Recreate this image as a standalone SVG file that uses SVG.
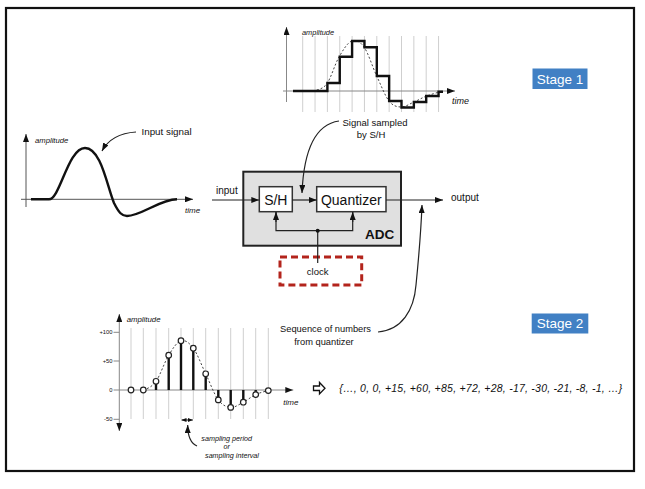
<svg xmlns="http://www.w3.org/2000/svg" width="645" height="489" viewBox="0 0 645 489">
<style>
text{font-family:"Liberation Sans",Arial,sans-serif;fill:#111}
.it{font-style:italic}
.ax{stroke:#888;stroke-width:1;fill:none}
.axd{stroke:#555;stroke-width:1;fill:none}
.grid{stroke:#cfcfcf;stroke-width:1}
.sig{stroke:#111;stroke-width:2.4;fill:none;stroke-linejoin:miter}
.dash{stroke:#444;stroke-width:1;stroke-dasharray:2 2;fill:none}
.con{stroke:#222;stroke-width:1.2;fill:none}
.stem{stroke:#111;stroke-width:2.4}
.pt{fill:#fff;stroke:#222;stroke-width:1.2}
.box{fill:#fff;stroke:#333;stroke-width:1.5}
.stage{fill:#4180c4}
.stxt{fill:#fff;font-size:13.5px;text-anchor:middle}
</style>
<defs>
<marker id="ah" viewBox="0 0 8 6" refX="8" refY="3" markerWidth="8" markerHeight="6" markerUnits="userSpaceOnUse" orient="auto">
<path d="M0,0 L8,3 L0,6 z" fill="#111"/>
</marker>
<marker id="sa" viewBox="0 0 5 4" refX="5" refY="2" markerWidth="5" markerHeight="4" markerUnits="userSpaceOnUse" orient="auto-start-reverse">
<path d="M0,0 L5,2 L0,4 z" fill="#111"/>
</marker>
</defs>
<rect x="6" y="8" width="628" height="463" fill="#fff" stroke="#111" stroke-width="2.2"/>

<g id="input-signal-graph">
<line class="axd" x1="26" y1="207" x2="26" y2="134" marker-end="url(#ah)"/>
<line class="axd" x1="21" y1="199.3" x2="193" y2="199.3" marker-end="url(#ah)"/>
<path class="sig" d="M31,199.3 L49,199.3 C60,199.3 68,148 85,148 C101,148 107,186 114,203 C119,213 122,216 127,216 C141,216 160,199.3 177,199.3"/>
<text class="it" x="35" y="143" font-size="7.7">amplitude</text>
<text class="it" x="185" y="213" font-size="8">time</text>
<text x="141.5" y="135" font-size="9.8">Input signal</text>
</g>

<g id="sampled-graph">
<g class="grid">
<line x1="302.7" y1="36" x2="302.7" y2="112"/><line x1="315.05" y1="36" x2="315.05" y2="112"/><line x1="327.4" y1="36" x2="327.4" y2="112"/><line x1="339.75" y1="36" x2="339.75" y2="112"/><line x1="352.1" y1="36" x2="352.1" y2="112"/><line x1="364.45" y1="36" x2="364.45" y2="112"/><line x1="376.8" y1="36" x2="376.8" y2="112"/><line x1="389.15" y1="36" x2="389.15" y2="112"/><line x1="401.5" y1="36" x2="401.5" y2="112"/><line x1="413.85" y1="36" x2="413.85" y2="112"/><line x1="426.2" y1="36" x2="426.2" y2="112"/><line x1="438.55" y1="36" x2="438.55" y2="112"/>
</g>
<line class="ax" x1="286.5" y1="102" x2="286.5" y2="27" marker-end="url(#ah)"/>
<line class="ax" x1="283" y1="91" x2="455" y2="91" marker-end="url(#ah)"/>
<path class="dash" d="M313,91 C316.6,89.8 322.4,89.7 326.7,84 C331,78.3 334.8,64.2 339,57 C343.2,49.8 347.5,42.7 351.7,41 C355.9,39.3 359.8,41.2 364,47 C368.2,52.8 372.5,67 376.7,76 C380.9,85 385,95.8 389,101 C393.1,106.2 396.8,106.8 401,107 C405.2,107.2 409.7,103.8 414,102 C418.3,100.2 421.9,97.8 426.7,96 C431.5,94.2 439.1,92 443,91"/>
<path class="sig" d="M293,91 L327.4,91 L327.4,83 L339.75,83 L339.75,56.7 L352.1,56.7 L352.1,41 L364.45,41 L364.45,47.3 L376.8,47.3 L376.8,76 L389.15,76 L389.15,101 L401.5,101 L401.5,107.5 L413.85,107.5 L413.85,102 L426.2,102 L426.2,96 L438.55,96 L438.55,91.7 L443,91.7"/>
<text class="it" x="302" y="35" font-size="7.4">amplitude</text>
<text class="it" x="452" y="104" font-size="9">time</text>
<text x="375" y="126" font-size="9.5" text-anchor="middle">Signal sampled</text>
<text x="371" y="138" font-size="9.5" text-anchor="middle">by S/H</text>
</g>

<g id="adc">
<rect x="243.3" y="171.7" width="157.7" height="74" fill="#e0e0e0" stroke="#222" stroke-width="2"/>
<text x="394.3" y="239.3" font-size="13.5" font-weight="bold" text-anchor="end">ADC</text>
</g>
<g id="sh">
<rect class="box" x="259.3" y="186.7" width="33" height="25"/>
<text x="275.8" y="204.5" font-size="14" text-anchor="middle">S/H</text>
</g>
<g id="quantizer">
<rect class="box" x="316.7" y="186.7" width="69.3" height="25"/>
<text x="351.3" y="204.5" font-size="14" text-anchor="middle">Quantizer</text>
</g>
<g id="clock">
<rect x="280" y="257" width="81.7" height="28" fill="none" stroke="#b3241c" stroke-width="3" stroke-dasharray="7 4"/>
<text x="317.7" y="275" font-size="9.5" text-anchor="middle">clock</text>
</g>
<g id="io-labels">
<text x="216" y="194" font-size="10">input</text>
<text x="451" y="201" font-size="10">output</text>
</g>

<g id="connectors">
<line class="con" x1="212" y1="200" x2="259.3" y2="200" marker-end="url(#ah)"/>
<line class="con" x1="292.3" y1="200" x2="316.7" y2="200" marker-end="url(#ah)"/>
<line class="con" x1="386" y1="200" x2="443" y2="200" stroke="#555" marker-end="url(#ah)"/>
<line class="con" x1="317.7" y1="263" x2="317.7" y2="230.7"/>
<polyline class="con" points="276,212 276,230.7 352.7,230.7 352.7,212"/>
<line class="con" x1="276" y1="222" x2="276" y2="212" marker-end="url(#ah)"/>
<line class="con" x1="352.7" y1="222" x2="352.7" y2="212" marker-end="url(#ah)"/>
<circle cx="317.7" cy="230.7" r="2" fill="#111"/>
<path class="con" d="M339,121 C318,124 304,145 302,193" marker-end="url(#ah)"/>
<path class="con" d="M136,132 C120,133 108,140 102,151" marker-end="url(#ah)"/>
<path class="con" d="M378,332 C402,330 414,310 416,285 C419,255 421,230 422,205" marker-end="url(#ah)"/>
<path class="con" d="M197,446 C190,443 187.7,435 187.7,425" marker-end="url(#ah)"/>
</g>

<g id="stage1">
<rect class="stage" x="532.5" y="68.5" width="55" height="20.5"/>
<text class="stxt" x="560" y="83.7">Stage 1</text>
</g>
<g id="stage2">
<rect class="stage" x="531.7" y="313.5" width="56.6" height="20"/>
<text class="stxt" x="560" y="328.3">Stage 2</text>
</g>

<g id="seq-label">
<text x="325.5" y="331.5" font-size="9.3" text-anchor="middle">Sequence of numbers</text>
<text x="324" y="344.5" font-size="9.3" text-anchor="middle">from quantizer</text>
</g>

<g id="sampled-sequence-graph">
<g class="grid">
<line x1="131" y1="328" x2="131" y2="419"/><line x1="143.3" y1="328" x2="143.3" y2="419"/><line x1="156" y1="328" x2="156" y2="419"/><line x1="168.7" y1="328" x2="168.7" y2="419"/><line x1="181" y1="328" x2="181" y2="419"/><line x1="193.3" y1="328" x2="193.3" y2="419"/><line x1="205.7" y1="328" x2="205.7" y2="419"/><line x1="218.3" y1="328" x2="218.3" y2="419"/><line x1="230.7" y1="328" x2="230.7" y2="419"/><line x1="243.3" y1="328" x2="243.3" y2="419"/><line x1="255.7" y1="328" x2="255.7" y2="419"/><line x1="268.3" y1="328" x2="268.3" y2="419"/>
</g>
<line class="ax" x1="119.3" y1="372" x2="119.3" y2="314" marker-end="url(#ah)"/>
<line class="ax" x1="119.3" y1="372" x2="119.3" y2="431" marker-end="url(#ah)"/>
<line class="ax" x1="119.3" y1="390" x2="293.3" y2="390" marker-end="url(#ah)"/>
<g class="ax">
<line x1="113.5" y1="332.3" x2="119.3" y2="332.3"/><line x1="113.5" y1="361" x2="119.3" y2="361"/><line x1="113.5" y1="390" x2="119.3" y2="390"/><line x1="113.5" y1="419.3" x2="119.3" y2="419.3"/>
</g>
<g font-size="5.8" text-anchor="end">
<text x="112.5" y="334.3">+100</text>
<text x="112.5" y="363">+50</text>
<text x="112.5" y="392">0</text>
<text x="112.5" y="421.3">-50</text>
</g>
<path class="dash" d="M143.3,390 C147.5,388.6 151.8,387.1 156,381.3 C160.2,375.5 164.5,362 168.7,355.2 C172.9,348.4 176.9,341.9 181,340.7 C185.1,339.5 189.2,342.7 193.3,348.2 C197.4,353.7 201.5,365.2 205.7,373.8 C209.9,382.4 214.1,394.3 218.3,399.9 C222.5,405.5 226.5,407 230.7,407.4 C234.9,407.8 239.1,404.3 243.3,402.2 C247.5,400.1 251.5,396.5 255.7,394.6 C259.9,392.7 264.3,391.5 268.3,390.6"/>
<g class="stem">
<line x1="156" y1="390" x2="156" y2="381.3"/><line x1="168.7" y1="390" x2="168.7" y2="355.2"/><line x1="181" y1="390" x2="181" y2="340.7"/><line x1="193.3" y1="390" x2="193.3" y2="348.2"/><line x1="205.7" y1="390" x2="205.7" y2="373.8"/><line x1="218.3" y1="390" x2="218.3" y2="399.9"/><line x1="230.7" y1="390" x2="230.7" y2="407.4"/><line x1="243.3" y1="390" x2="243.3" y2="402.2"/><line x1="255.7" y1="390" x2="255.7" y2="394.6"/>
</g>
<g class="pt">
<circle cx="131" cy="390" r="2.8"/><circle cx="143.3" cy="390" r="2.8"/><circle cx="156" cy="381.3" r="2.8"/><circle cx="168.7" cy="355.2" r="2.8"/><circle cx="181" cy="340.7" r="2.8"/><circle cx="193.3" cy="348.2" r="2.8"/><circle cx="205.7" cy="373.8" r="2.8"/><circle cx="218.3" cy="399.9" r="2.8"/><circle cx="230.7" cy="407.4" r="2.8"/><circle cx="243.3" cy="402.2" r="2.8"/><circle cx="255.7" cy="394.6" r="2.8"/><circle cx="268.3" cy="390.6" r="2.8"/>
</g>
<line x1="181.5" y1="420" x2="192.8" y2="420" stroke="#111" stroke-width="1" marker-start="url(#sa)" marker-end="url(#sa)"/>
<text class="it" x="126.7" y="321.5" font-size="7.8">amplitude</text>
<text class="it" x="283.3" y="404.5" font-size="8">time</text>
<g class="it" font-size="7.2" text-anchor="middle">
<text x="226.7" y="440.5">sampling period</text>
<text x="226.7" y="449.3">or</text>
<text x="232" y="458.3">sampling interval</text>
</g>
</g>

<g id="sequence">
<polygon points="313.5,386 319.5,386 319.5,382.5 325,388.3 319.5,394 319.5,390.5 313.5,390.5" fill="#fff" stroke="#111" stroke-width="1.3" stroke-linejoin="miter"/>
<text class="it" x="339.3" y="391.8" font-size="10.5" textLength="283" lengthAdjust="spacing">{…, 0, 0, +15, +60, +85, +72, +28, -17, -30, -21, -8, -1, …}</text>
</g>
</svg>
